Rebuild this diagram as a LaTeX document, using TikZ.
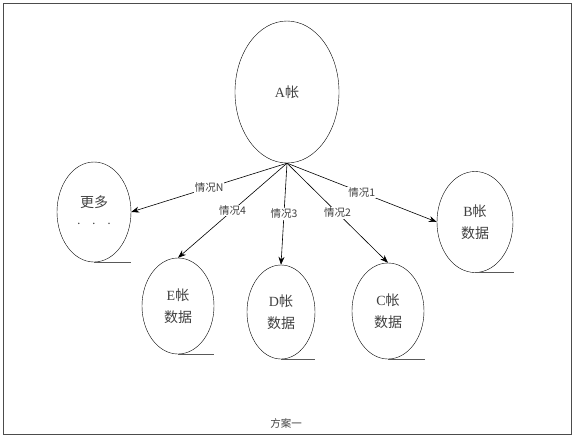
\documentclass[tikz,border=0pt]{standalone}
\usepackage{fontspec}
\setmainfont{Liberation Serif}
\newfontfamily\cjk{Noto Sans CJK SC}
\usetikzlibrary{shapes.geometric,arrows.meta}
\begin{document}
\begin{tikzpicture}[x=1pt,y=-1pt,
  tape/.style={draw,ellipse,inner sep=0pt,align=center,text=black!75,font=\fontsize{14}{22}\selectfont},
  tail/.style={draw=black!65,line width=1pt},
  arr/.style={-{Stealth[length=8pt,width=6pt]},line width=0.6pt},
  lab/.style={fill=white,inner sep=1pt,font=\cjk\fontsize{10.5}{12}\selectfont,text=black!75}]
\useasboundingbox (0,0) rectangle (574,437);
\draw[black!70,line width=0.8pt] (3,3) rectangle (571,434);
\node[tape,minimum width=104pt,minimum height=142pt] (A) at (287,92) {A{\cjk 帐}};
\node[tape,minimum width=74pt,minimum height=100pt] (more) at (94,212) {{\cjk 更多}\\[-2pt]$\cdot\;\;\cdot\;\;\cdot$};
\node[tape,minimum width=76pt,minimum height=101pt] (B) at (475,222) {B{\cjk 帐}\\{\cjk 数据}};
\node[tape,minimum width=72pt,minimum height=96pt] (E) at (178,306) {E{\cjk 帐}\\{\cjk 数据}};
\node[tape,minimum width=68pt,minimum height=94pt] (D) at (281,312) {D{\cjk 帐}\\{\cjk 数据}};
\node[tape,minimum width=72pt,minimum height=96pt] (C) at (388,311) {C{\cjk 帐}\\{\cjk 数据}};
\draw[tail] (more.south) -- ++(37,0);
\draw[tail] (B.south) -- ++(39,0);
\draw[tail] (E.south) -- ++(36,0);
\draw[tail] (D.south) -- ++(34,0);
\draw[tail] (C.south) -- ++(37,0);
\draw[arr] (A.south) -- node[lab,pos=0.5] {情况N} (more.east);
\draw[arr] (A.south) -- node[lab,pos=0.5] {情况4} (E.north);
\draw[arr] (A.south) -- node[lab,pos=0.5] {情况3} (D.north);
\draw[arr] (A.south) -- node[lab,pos=0.5] {情况2} (C.north);
\draw[arr] (A.south) -- node[lab,pos=0.5] {情况1} (B.west);
\node[font=\cjk\fontsize{10.5}{12}\selectfont,text=black!75] (cap) at (286,423) {方案一};
\end{tikzpicture}
\end{document}
